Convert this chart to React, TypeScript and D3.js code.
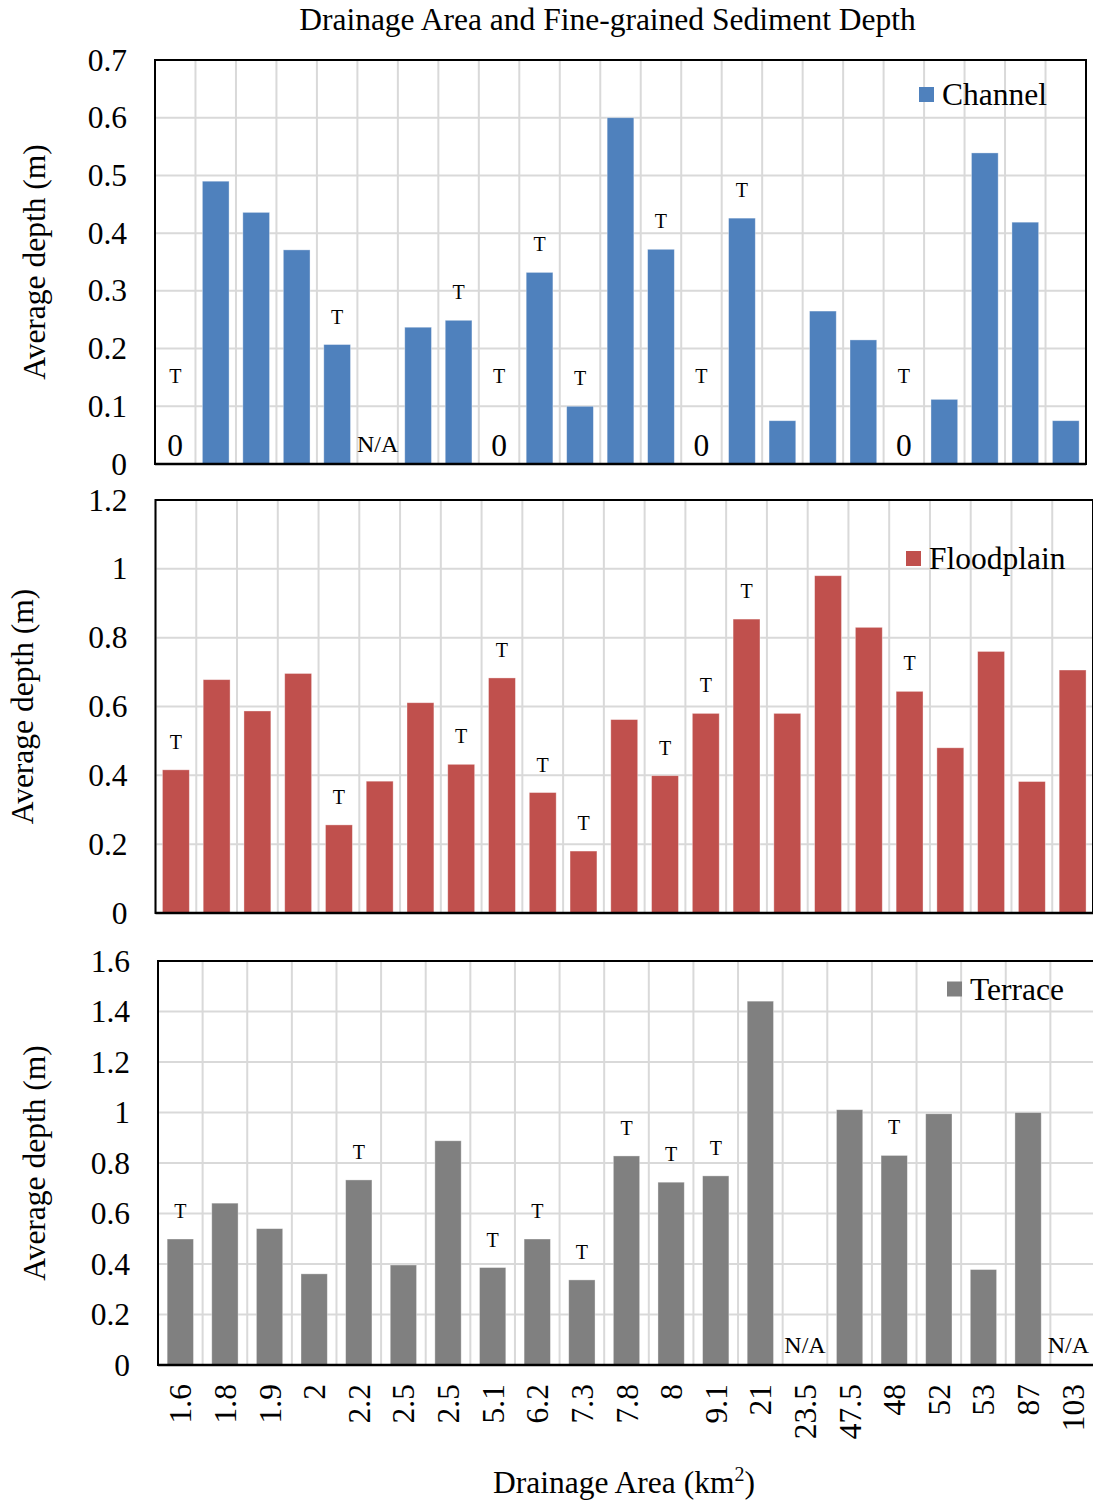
import React from "react";
import * as d3 from "d3";

const TITLE = "Drainage Area and Fine-grained Sediment Depth";
const Y_TITLE = "Average depth (m)";

// Sites shown in the Channel and Floodplain panels (unlabelled on the chart)
const siteCodes = ["1","2","3","4","5","6","7","8","9","10","11","12","13","14","15","16","17","18","19","20","21","22","23"];

// Channel (m); null = N/A
const channelDepth: (number | null)[] = [0, 0.49, 0.436, 0.371, 0.207, null, 0.237, 0.249, 0, 0.332, 0.1, 0.6, 0.372, 0, 0.426, 0.075, 0.265, 0.215, 0, 0.112, 0.539, 0.419, 0.075];
const channelTrace = [0, 4, 7, 8, 9, 10, 12, 13, 14, 18];
const channelTicks = [0, 0.1, 0.2, 0.3, 0.4, 0.5, 0.6, 0.7];

// Floodplain (m)
const floodplainDepth: (number | null)[] = [0.416, 0.678, 0.587, 0.696, 0.256, 0.383, 0.611, 0.432, 0.683, 0.35, 0.18, 0.562, 0.399, 0.58, 0.854, 0.58, 0.98, 0.83, 0.644, 0.48, 0.76, 0.382, 0.706];
const floodplainTrace = [0, 4, 7, 8, 9, 10, 12, 13, 14, 18];
const floodplainTicks = [0, 0.2, 0.4, 0.6, 0.8, 1, 1.2];

// Terrace panel, labelled by drainage area (km2)
const drainageArea = ["1.6","1.8","1.9","2","2.2","2.5","2.5","5.1","6.2","7.3","7.8","8","9.1","21","23.5","47.5","48","52","53","87","103"];
const terraceDepth: (number | null)[] = [0.499, 0.641, 0.54, 0.361, 0.733, 0.396, 0.888, 0.386, 0.499, 0.337, 0.828, 0.724, 0.749, 1.441, null, 1.011, 0.83, 0.995, 0.378, 1.0, null];
const terraceTrace = [0, 4, 7, 8, 9, 10, 11, 12, 16];
const terraceTicks = [0, 0.2, 0.4, 0.6, 0.8, 1, 1.2, 1.4, 1.6];

const FONT = '"Liberation Serif", "Times New Roman", Times, serif';
const FS = 31.5;
const GRID = "#d9d9d9";

type PanelProps = {
  name: string;
  color: string;
  values: (number | null)[];
  trace: number[];
  categories: string[];
  ticks: number[];
  x0: number; x1: number; y0: number; y1: number;
  padding: number;
  yTitleX: number;
  legendX: number; legendY: number;
  xLabels?: boolean;
};

function Panel(p: PanelProps) {
  const idx = p.categories.map((_, i) => String(i));
  const x = d3.scaleBand<string>().domain(idx).range([p.x0, p.x1]).paddingInner(p.padding).paddingOuter(p.padding / 2);
  const xb = d3.scaleBand<string>().domain(idx).range([p.x0, p.x1]);
  const y = d3.scaleLinear().domain([0, p.ticks[p.ticks.length - 1]]).range([p.y0, p.y1]);
  const fmt = (v: number) => String(+v.toFixed(2));
  const boundaries = idx.map((k) => xb(k)!).concat([p.x1]);
  return (
    <g>
      {p.ticks.map((t) => (
        <line key={"h" + t} x1={p.x0} x2={p.x1} y1={y(t)} y2={y(t)} stroke={GRID} strokeWidth={2} />
      ))}
      {boundaries.map((bx, i) => (
        <line key={"v" + i} x1={bx} x2={bx} y1={p.y1} y2={p.y0} stroke={GRID} strokeWidth={2} />
      ))}
      {p.values.map((v, i) =>
        v === null || v === 0 ? null : (
          <rect key={"b" + i} x={x(String(i))} width={x.bandwidth()} y={y(v)} height={p.y0 - y(v)} fill={p.color} stroke="#ffffff" strokeOpacity={0.45} strokeWidth={0.8} />
        )
      )}
      {p.values.map((v, i) => {
        const cx = xb(String(i))! + xb.bandwidth() / 2;
        const isT = p.trace.includes(i);
        const out: any[] = [];
        if (v === null) {
          const last = i === p.values.length - 1;
          out.push(<text key="na" x={last ? p.x1 - 6 : cx} y={p.y0 - 12} textAnchor={last ? "end" : "middle"} fontSize={24} fontFamily={FONT}>N/A</text>);
        } else if (v === 0) {
          out.push(<text key="z" x={cx} y={p.y0 - 8.5} textAnchor="middle" fontSize={FS} fontFamily={FONT}>0</text>);
          if (isT) out.push(<text key="t" x={cx} y={p.y0 - 81} textAnchor="middle" fontSize={20} fontFamily={FONT}>T</text>);
        } else if (isT) {
          out.push(<text key="t" x={cx} y={y(v) - 21} textAnchor="middle" fontSize={20} fontFamily={FONT}>T</text>);
        }
        return <g key={"l" + i}>{out}</g>;
      })}
      <rect x={p.x0} y={p.y1} width={p.x1 - p.x0} height={p.y0 - p.y1} fill="none" stroke="#000" strokeWidth={2} />
      <line x1={p.x0} x2={p.x1} y1={p.y0} y2={p.y0} stroke="#000" strokeWidth={2.5} />
      {p.ticks.map((t) => (
        <text key={"yt" + t} x={p.x0 - 28} y={y(t) + 10.5} textAnchor="end" fontSize={FS} fontFamily={FONT}>{fmt(t)}</text>
      ))}
      <text transform={`translate(${p.yTitleX},${(p.y0 + p.y1) / 2}) rotate(-90)`} textAnchor="middle" fontSize={FS} fontFamily={FONT}>{Y_TITLE}</text>
      <rect x={p.legendX} y={p.legendY - 7.5} width={15} height={15} fill={p.color} />
      <text x={p.legendX + 23} y={p.legendY + 10.5} fontSize={FS} fontFamily={FONT}>{p.name}</text>
      {p.xLabels &&
        p.categories.map((c, i) => {
          const cx = xb(String(i))! + xb.bandwidth() / 2;
          return (
            <text key={"xl" + i} transform={`translate(${cx + 11},${p.y0 + 19}) rotate(-90)`} textAnchor="end" fontSize={FS} fontFamily={FONT}>{c}</text>
          );
        })}
    </g>
  );
}

export default function App() {
  return (
    <div style={{ position: "absolute", left: 0, top: 0 }}>
      <svg width={1093} height={1502} style={{ display: "block", background: "#fff" }}>
        <rect width={1093} height={1502} fill="#fff" />
        <text x={607.5} y={30} textAnchor="middle" fontSize={FS} fontFamily={FONT}>{TITLE}</text>
        <Panel name="Channel" color="#4F81BD" values={channelDepth} trace={channelTrace} categories={siteCodes} ticks={channelTicks}
          x0={155} x1={1086} y0={464} y1={60} padding={0.34} yTitleX={45} legendX={919} legendY={94.5} />
        <Panel name="Floodplain" color="#C0504D" values={floodplainDepth} trace={floodplainTrace} categories={siteCodes} ticks={floodplainTicks}
          x0={155.5} x1={1093} y0={913} y1={500} padding={0.34} yTitleX={33} legendX={906} legendY={558.5} />
        <Panel name="Terrace" color="#808080" values={terraceDepth} trace={terraceTrace} categories={drainageArea} ticks={terraceTicks}
          x0={158} x1={1095} y0={1365} y1={961} padding={0.41} yTitleX={45} legendX={947} legendY={989} xLabels />
        <text x={624} y={1493} textAnchor="middle" fontSize={FS} fontFamily={FONT}>
          Drainage Area (km<tspan fontSize={20} dy={-12}>2</tspan><tspan dy={12}>)</tspan>
        </text>
      </svg>
    </div>
  );
}
